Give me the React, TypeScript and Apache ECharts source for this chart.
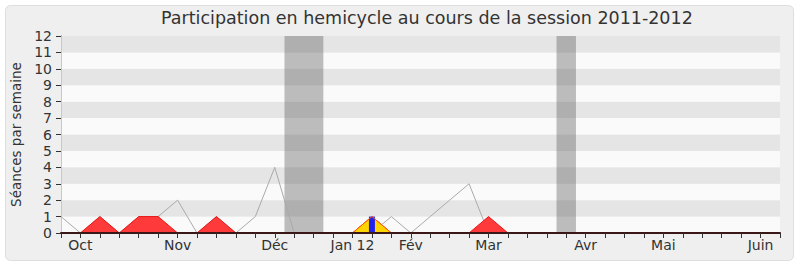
import React, { useEffect, useRef } from "react";
import * as echarts from "echarts";

// One value per week, from the last week of September 2011 (index 0)
const weekCount = 37;
const presence = [1, 0, 1, 0, 1, 1, 2, 0, 1, 0, 1, 4, 0, 0, 0, 0, 0, 1, 0, 1, 2, 3, 0, 0, 0, 0, 0, 0, 0, 0, 0, 0, 0, 0, 0, 0, 0, 0];
const interventions = [0, 0, 1, 0, 1, 1, 0, 0, 1, 0, 0, 0, 0, 0, 0, 0, 1, 0, 0, 0, 0, 0, 1, 0, 0, 0, 0, 0, 0, 0, 0, 0, 0, 0, 0, 0, 0, 0];
const amendements = [0, 0, 0, 0, 0, 0, 0, 0, 0, 0, 0, 0, 0, 0, 0, 0, 1, 0, 0, 0, 0, 0, 0, 0, 0, 0, 0, 0, 0, 0, 0, 0, 0, 0, 0, 0, 0, 0];
const questions = [0, 0, 0, 0, 0, 0, 0, 0, 0, 0, 0, 0, 0, 0, 0, 0, 1, 0, 0, 0, 0, 0, 0, 0, 0, 0, 0, 0, 0, 0, 0, 0, 0, 0, 0, 0, 0, 0];

// Month labels and the week they fall on
const monthLabels = ["Oct", "Nov", "Déc", "Jan 12", "Fév", "Mar", "Avr", "Mai", "Juin"];
const monthWeeks = [1, 6, 11, 15, 18, 22, 27, 31, 36];

// Parliamentary holidays: first and last week
const vacances = [
  [12, 13],
  [26, 26],
];

const FONT = "DejaVu Sans";

const pairs = (arr: number[]) => arr.map((v, i) => [i, v]);

export default function App() {
  const ref = useRef<HTMLDivElement>(null);

  useEffect(() => {
    if (!ref.current) return;
    const chart = echarts.init(ref.current, undefined, { renderer: "svg" });

    const monthAt = (v: number) => {
      const r = Math.round(v);
      const k = monthWeeks.indexOf(r);
      return k >= 0 && Math.abs(v - r) < 1e-6 ? monthLabels[k] : "";
    };

    chart.setOption({
      animation: false,
      backgroundColor: "#ffffff",
      textStyle: { fontFamily: FONT },
      graphic: [
        {
          type: "rect",
          z: -10,
          shape: { x: 5.5, y: 5.5, width: 788, height: 255, r: 5 },
          style: { fill: "#efefef", stroke: "#dedede", lineWidth: 1 },
        },
      ],
      title: {
        text: "Participation en hemicycle au cours de la session 2011-2012",
        left: 161,
        top: 9,
        padding: 0,
        textStyle: { fontFamily: FONT, fontSize: 17.5, fontWeight: "normal", color: "#333333" },
      },
      grid: { left: 61, right: 20, top: 36, bottom: 34 },
      xAxis: [
        {
          type: "value",
          min: 0,
          max: weekCount,
          interval: 1,
          z: 5,
          axisLine: { show: true, lineStyle: { color: "#3a1616", width: 2 } },
          axisTick: { show: true, length: 5, lineStyle: { color: "#333333" } },
          axisLabel: {
            show: true,
            margin: 5,
            fontSize: 14,
            color: "#333333",
            fontFamily: FONT,
            formatter: (v: number) => monthAt(v),
          },
          splitLine: { show: false },
        },
        {
          type: "value",
          position: "top",
          min: 0,
          max: weekCount,
          interval: 1,
          axisLine: { show: false },
          axisTick: { show: true, inside: true, length: 2, lineStyle: { color: "#333333" } },
          axisLabel: { show: false },
          splitLine: { show: false },
        },
      ],
      yAxis: [
        {
          type: "value",
          min: 0,
          max: 12,
          interval: 1,
          name: "Séances par semaine",
          nameLocation: "middle",
          nameGap: 37,
          nameTextStyle: { fontFamily: FONT, fontSize: 13.5, color: "#333333" },
          axisLine: { show: true, lineStyle: { color: "#222222" } },
          axisTick: { show: true, length: 5, lineStyle: { color: "#333333" } },
          axisLabel: { margin: 9, fontSize: 14, color: "#333333", fontFamily: FONT },
          splitLine: { show: false },
          splitArea: { show: true, areaStyle: { color: ["#fafafa", "#e5e5e5"] } },
        },
        {
          type: "value",
          position: "right",
          min: 0,
          max: 12,
          interval: 1,
          axisLine: { show: true, lineStyle: { color: "#c8c8c8" } },
          axisTick: { show: false },
          axisLabel: { show: false },
          splitLine: { show: false },
        },
      ],
      series: [
        {
          name: "Présence",
          type: "line",
          data: pairs(presence),
          symbol: "none",
          z: 2,
          lineStyle: { color: "#aaaaaa", width: 1 },
          markArea: {
            silent: true,
            itemStyle: { color: "rgba(95,95,95,0.4)" },
            data: vacances.map(([a, b]) => [{ xAxis: a - 0.5 }, { xAxis: b + 0.5 }]),
          },
        },
        {
          name: "Interventions",
          type: "line",
          data: pairs(interventions),
          symbol: "none",
          z: 3,
          lineStyle: { color: "#e81818", width: 1 },
          areaStyle: { color: "#ff3a3a", opacity: 1 },
        },
        {
          name: "Amendements",
          type: "line",
          data: pairs(amendements),
          symbol: "none",
          z: 4,
          lineStyle: { color: "#ff5a00", width: 1 },
          areaStyle: { color: "#ffd400", opacity: 1 },
        },
        {
          name: "Questions",
          type: "bar",
          data: pairs(questions),
          barWidth: 6,
          z: 4,
          itemStyle: { color: "#2222ee" },
        },
      ],
    });

    return () => chart.dispose();
  }, []);

  return (
    <div
      ref={ref}
      style={{ position: "fixed", left: 0, top: 0, width: 800, height: 267 }}
    />
  );
}
